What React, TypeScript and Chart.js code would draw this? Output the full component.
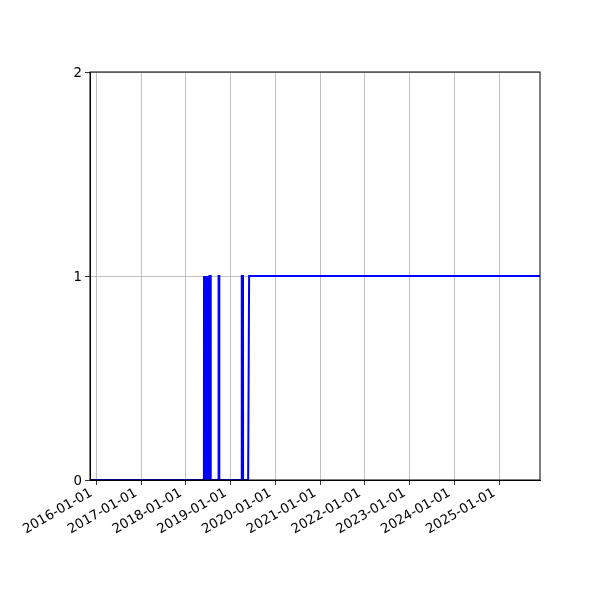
import { useEffect, useRef } from 'react'
import { Chart, registerables } from 'chart.js'

Chart.register(...registerables)

// step series (one point per change of state)
const pointDates = [
  '2015-11-11', '2018-05-28',
  '2018-05-29', '2018-06-02', '2018-06-03', '2018-06-06', '2018-06-07', '2018-06-11',
  '2018-06-12', '2018-06-15', '2018-06-16', '2018-06-20', '2018-06-21', '2018-06-24',
  '2018-06-25', '2018-06-29', '2018-06-30', '2018-07-03', '2018-07-04', '2018-07-08',
  '2018-07-09', '2018-07-12', '2018-07-13', '2018-07-22', '2018-07-23',
  '2018-09-24', '2018-09-25', '2018-09-30', '2018-10-01',
  '2019-04-01', '2019-04-02', '2019-04-12', '2019-04-13',
  '2019-05-24', '2019-06-01', '2025-11-29',
]
const pointValues = [
  0, 0,
  1, 1, 0, 0, 1, 1,
  0, 0, 1, 1, 0, 0,
  1, 1, 0, 0, 1, 1,
  0, 0, 1, 1, 0,
  0, 1, 1, 0,
  0, 1, 1, 0,
  0, 1, 1,
]

const tickLabels = [
  '2016-01-01', '2017-01-01', '2018-01-01', '2019-01-01', '2020-01-01',
  '2021-01-01', '2022-01-01', '2023-01-01', '2024-01-01', '2025-01-01',
]
const xMinDate = '2015-11-11'
const xMaxDate = '2025-11-29'
const yTicks = [0, 1, 2]

const frame = {
  id: 'frame',
  afterDraw(chart: Chart) {
    const { ctx, chartArea: a } = chart
    ctx.save()
    ctx.strokeStyle = '#000'
    ctx.lineWidth = 1
    ctx.strokeRect(a.left, a.top, a.right - a.left, a.bottom - a.top)
    ctx.restore()
  },
}

export default function App() {
  const canvasRef = useRef<HTMLCanvasElement>(null)

  useEffect(() => {
    document.body.style.margin = '0'
    if (!canvasRef.current) return
    const font = { family: 'DejaVu Sans', size: 13.33 }
    const chart = new Chart(canvasRef.current, {
      type: 'line',
      data: {
        datasets: [
          {
            data: pointDates.map((d, i) => ({ x: Date.parse(d), y: pointValues[i] })),
            borderColor: '#0000ff',
            borderWidth: 2,
            pointRadius: 0,
            tension: 0,
            fill: false,
          },
        ],
      },
      options: {
        animation: false,
        responsive: false,
        layout: { padding: { top: 72, right: 60, left: 0, bottom: 0 } },
        plugins: { legend: { display: false }, tooltip: { enabled: false } },
        scales: {
          x: {
            type: 'linear',
            min: Date.parse(xMinDate),
            max: Date.parse(xMaxDate),
            afterBuildTicks: scale => {
              scale.ticks = tickLabels.map(t => ({ value: Date.parse(t) }))
            },
            afterFit: scale => {
              scale.height = 120
            },
            ticks: {
              color: '#000',
              font,
              minRotation: 30,
              maxRotation: 30,
              padding: 0,
              labelOffset: -5,
              callback: (_v, i) => tickLabels[i],
            },
            grid: { color: '#b0b0b0', lineWidth: 0.8, tickColor: '#000', tickLength: 5 },
            border: { color: '#000', width: 1 },
          },
          y: {
            min: 0,
            max: 2,
            afterBuildTicks: scale => {
              scale.ticks = yTicks.map(v => ({ value: v }))
            },
            afterFit: scale => {
              scale.width = 90
            },
            ticks: { color: '#000', font, padding: 3, labelOffset: 1.5 },
            grid: { color: '#b0b0b0', lineWidth: 0.8, tickColor: '#000', tickLength: 5 },
            border: { color: '#000', width: 1 },
          },
        },
      },
      plugins: [frame],
    })
    return () => chart.destroy()
  }, [])

  return <canvas ref={canvasRef} width={600} height={600} />
}
